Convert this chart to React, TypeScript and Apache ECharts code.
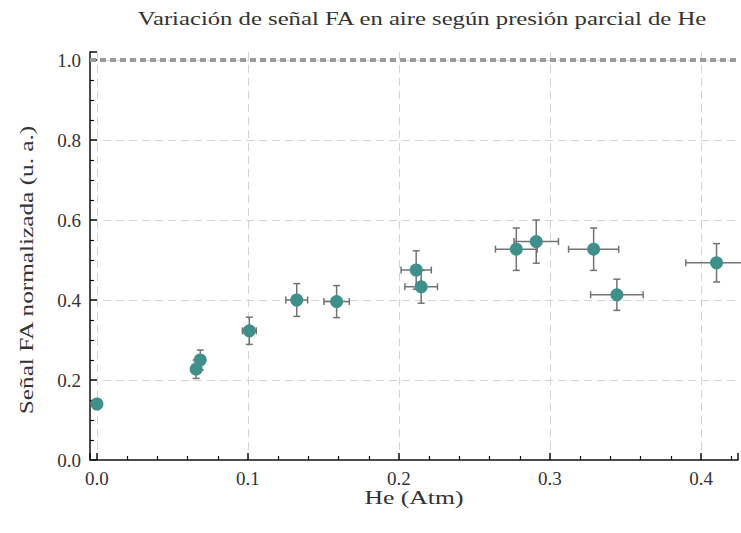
import React, { useEffect, useRef } from "react";
import * as echarts from "echarts";

// Partial pressure of He (atm) and normalised photoacoustic signal
const pressureHe = [0.0, 0.0657, 0.0684, 0.1009, 0.1323, 0.1587, 0.2114, 0.2147, 0.2777, 0.2909, 0.3289, 0.3443, 0.4103];
const signalFA = [0.14, 0.227, 0.25, 0.323, 0.4, 0.396, 0.475, 0.433, 0.527, 0.546, 0.527, 0.413, 0.493];
const pressureErr = [0.001, 0.002, 0.002, 0.0046, 0.0072, 0.0084, 0.01, 0.0108, 0.0138, 0.0147, 0.0166, 0.0174, 0.0204];
const signalErr = [0.008, 0.023, 0.025, 0.034, 0.041, 0.04, 0.048, 0.041, 0.053, 0.054, 0.053, 0.039, 0.048];

// Reference level (pure air)
const referenceLevel = 1.0;

const X_MIN = -0.0046;
const X_MAX = 0.4245;
const X_STEP = 0.1;
const Y_MIN = 0;
const Y_MAX = 1.02;
const Y_STEP = 0.2;

const SERIF = "'Liberation Serif', 'Times New Roman', serif";
const TEXT_COLOR = "#333";
const POINT_COLOR = "#3f8f8b";
const BAR_COLOR = "#6f7474";
const AXIS_COLOR = "#111";

// Only label values that sit on the major step (skips the axis end points)
const stepLabel = (step: number) => (v: number) =>
  Math.abs(v / step - Math.round(v / step)) < 1e-6 ? v.toFixed(1) : "";

export default function App() {
  const ref = useRef<HTMLDivElement>(null);

  useEffect(() => {
    if (!ref.current) return;
    const chart = echarts.init(ref.current, null, { renderer: "svg" });

    const points = pressureHe.map((x, i) => [x, signalFA[i]]);
    const bars = pressureHe.map((x, i) => [x, signalFA[i], pressureErr[i], signalErr[i]]);

    const cap = 3.5;
    const barStyle = { stroke: BAR_COLOR, lineWidth: 1.5 };
    const tickLabel = { fontFamily: SERIF, fontSize: 19, color: TEXT_COLOR };
    const gridLine = {
      show: true,
      showMinLine: false,
      showMaxLine: false,
      lineStyle: { color: "#d4d4d4", type: [8, 5], width: 1 },
    };
    const majorTick = { show: true, inside: true, length: 7, lineStyle: { color: AXIS_COLOR, width: 1.5 } };

    chart.setOption({
      animation: false,
      backgroundColor: "#ffffff",
      graphic: [
        {
          type: "text",
          x: 422,
          y: 19,
          scaleX: 1.3,
          style: {
            text: "Variación de señal FA en aire según presión parcial de He",
            fontFamily: SERIF,
            fontSize: 19,
            fill: TEXT_COLOR,
            align: "center",
            verticalAlign: "middle",
          },
        },
        {
          type: "text",
          x: 414,
          y: 498,
          scaleX: 1.35,
          style: {
            text: "He (Atm)",
            fontFamily: SERIF,
            fontSize: 19,
            fill: TEXT_COLOR,
            align: "center",
            verticalAlign: "middle",
          },
        },
        {
          type: "text",
          x: 27,
          y: 270,
          rotation: Math.PI / 2,
          scaleX: 1.33,
          style: {
            text: "Señal FA normalizada (u. a.)",
            fontFamily: SERIF,
            fontSize: 19,
            fill: TEXT_COLOR,
            align: "center",
            verticalAlign: "middle",
          },
        },
      ],
      grid: { left: 90, right: 0, top: 52, bottom: 73, containLabel: false },
      xAxis: {
        type: "value",
        min: X_MIN,
        max: X_MAX,
        splitNumber: 5,
        axisLine: { onZero: false, lineStyle: { color: AXIS_COLOR, width: 1.5 } },
        axisTick: majorTick,
        minorTick: { show: true, splitNumber: 5, length: 4, lineStyle: { color: AXIS_COLOR, width: 1.2 } },
        axisLabel: { ...tickLabel, margin: 9, formatter: stepLabel(X_STEP) },
        splitLine: gridLine,
      },
      yAxis: {
        type: "value",
        min: Y_MIN,
        max: Y_MAX,
        interval: Y_STEP,
        axisLine: { show: true, onZero: false, lineStyle: { color: AXIS_COLOR, width: 1.5 } },
        axisTick: majorTick,
        minorTick: { show: true, splitNumber: 4, length: 4, lineStyle: { color: AXIS_COLOR, width: 1.2 } },
        axisLabel: { ...tickLabel, margin: 9, formatter: stepLabel(Y_STEP) },
        splitLine: gridLine,
      },
      series: [
        {
          type: "line",
          data: [
            [X_MIN, referenceLevel],
            [X_MAX, referenceLevel],
          ],
          symbol: "none",
          lineStyle: { color: "#9a9a9a", width: 4, type: [6, 4] },
          z: 1,
        },
        {
          type: "custom",
          data: bars,
          z: 2,
          renderItem: (_params: any, api: any) => {
            const x = api.value(0);
            const y = api.value(1);
            const ex = api.value(2);
            const ey = api.value(3);
            const l = api.coord([x - ex, y]);
            const r = api.coord([x + ex, y]);
            const t = api.coord([x, y + ey]);
            const b = api.coord([x, y - ey]);
            return {
              type: "group",
              children: [
                { type: "line", shape: { x1: l[0], y1: l[1], x2: r[0], y2: r[1] }, style: barStyle },
                { type: "line", shape: { x1: l[0], y1: l[1] - cap, x2: l[0], y2: l[1] + cap }, style: barStyle },
                { type: "line", shape: { x1: r[0], y1: r[1] - cap, x2: r[0], y2: r[1] + cap }, style: barStyle },
                { type: "line", shape: { x1: t[0], y1: t[1], x2: b[0], y2: b[1] }, style: barStyle },
                { type: "line", shape: { x1: t[0] - cap, y1: t[1], x2: t[0] + cap, y2: t[1] }, style: barStyle },
                { type: "line", shape: { x1: b[0] - cap, y1: b[1], x2: b[0] + cap, y2: b[1] }, style: barStyle },
              ],
            };
          },
        },
        {
          type: "scatter",
          data: points,
          symbol: "circle",
          symbolSize: 13,
          itemStyle: { color: POINT_COLOR, opacity: 1 },
          z: 3,
        },
      ],
    });

    return () => chart.dispose();
  }, []);

  return (
    <div
      ref={ref}
      style={{ position: "absolute", left: 0, top: 0, width: 741, height: 533, background: "#fff" }}
    />
  );
}
